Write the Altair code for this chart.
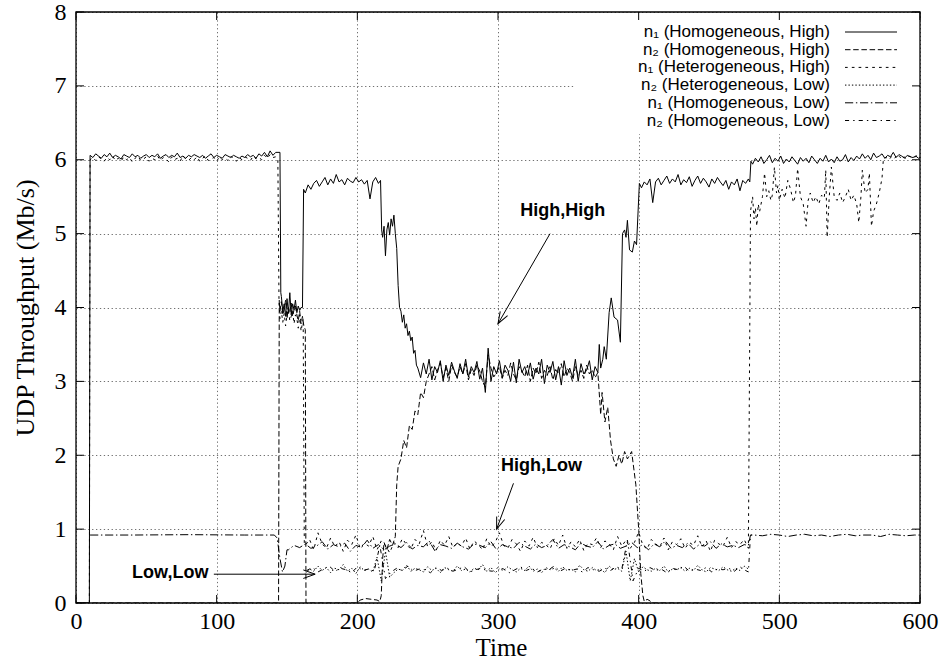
import math
import altair as alt
import pandas as pd

# ---------------- data ----------------
X_TICKS = [0, 100, 200, 300, 400, 500, 600]
Y_TICKS = [0, 1, 2, 3, 4, 5, 6, 7, 8]

SERIES = ["n\u2081 (Homogeneous, High)", "n\u2082 (Homogeneous, High)",
          "n\u2081 (Heterogeneous, High)", "n\u2082 (Heterogeneous, Low)",
          "n\u2081 (Homogeneous, Low)", "n\u2082 (Homogeneous, Low)"]

# n1 (Homogeneous, High) - solid
A_HIGH_1 = [6.06, 6.03, 6.08, 6.05, 6.02, 6.07, 6.04, 6.09, 6.03, 6.06,
            6.04, 6.01, 6.07, 6.05, 6.03, 6.08, 6.04, 6.06, 6.02, 6.05,
            6.07, 6.03, 6.06, 6.04, 6.08, 6.02, 6.05, 6.07, 6.03, 6.06,
            6.04, 6.09, 6.03, 6.05, 6.02, 6.06, 6.04, 6.07, 6.05, 6.03,
            6.06, 6.02, 6.05, 6.08, 6.03, 6.06, 6.04, 6.02, 6.07, 6.05,
            6.03, 6.06, 6.04, 6.02, 6.05, 6.03, 6.07, 6.04, 6.06, 6.02,
            6.08, 6.05, 6.10, 6.04, 6.12, 6.06, 6.10]
A_DROP = [4.15, 3.95, 4.05, 3.88, 4.12, 3.92, 4.2, 3.9, 4.05, 3.97, 4.1, 3.93, 4.02, 3.96, 4.0]
A_MID = [5.55, 5.66, 5.6, 5.68, 5.72, 5.64, 5.7, 5.76, 5.66, 5.74,
         5.68, 5.8, 5.7, 5.73, 5.66, 5.75, 5.71, 5.69, 5.76, 5.7,
         5.73, 5.67, 5.72, 5.47, 5.7, 5.76, 5.68]
A_STEP = [4.95, 5.1, 4.7, 5.05, 5.15, 4.98, 5.2, 5.1, 5.25, 5.0]
A_FALL = [(228, 4.8), (229, 4.3), (230, 4.0), (231, 3.95), (232, 3.8), (233, 3.9),
          (234, 3.72), (235, 3.78), (236, 3.62), (237, 3.68), (238, 3.55), (239, 3.6),
          (240, 3.38), (241, 3.42), (242, 3.22)]
A_BAND = [3.18, 3.05, 3.25, 3.1, 3.3, 3.02, 3.2, 3.12, 3.28, 3.0,
          3.22, 3.08, 3.26, 3.14, 3.04, 3.24, 3.1, 3.3, 3.06, 3.2,
          3.12, 3.27, 3.03, 3.18, 2.85, 3.45, 3.0, 3.2, 3.1, 3.28,
          3.05, 3.22, 3.15, 3.0, 3.26, 2.98, 3.3, 3.12, 3.2, 3.08,
          3.25, 3.03, 3.18, 3.1, 3.3, 2.97, 3.22, 3.12, 3.27, 3.02,
          3.2, 2.95, 3.28, 3.08, 3.18, 3.05, 3.3, 3.0, 3.24, 3.1,
          3.15, 3.28, 3.02, 3.2, 3.12]
A_RISE = [(372, 3.5), (373, 3.18), (374.5, 3.3), (375.5, 3.47), (377, 3.3), (379, 3.93),
          (380.5, 4.13), (382.5, 3.87), (385, 3.83), (387, 3.53), (388.5, 5.0), (390, 5.05),
          (391, 4.95), (392, 5.18), (393.5, 4.78), (395.5, 4.75), (397, 4.9), (398.5, 4.85),
          (400.5, 5.68)]
A_HIGH_2 = [5.62, 5.7, 5.66, 5.74, 5.42, 5.7, 5.75, 5.66, 5.72, 5.78,
            5.68, 5.74, 5.7, 5.8, 5.66, 5.73, 5.69, 5.77, 5.64, 5.72,
            5.78, 5.68, 5.75, 5.7, 5.63, 5.74, 5.68, 5.76, 5.7, 5.65,
            5.72, 5.6, 5.7, 5.66, 5.74, 5.58, 5.72, 5.68, 5.74]
A_HIGH_3 = [5.94, 6.02, 5.97, 6.04, 5.95, 6.0, 6.06, 5.96, 6.02, 5.98,
            6.05, 5.95, 6.01, 5.97, 6.04, 5.99, 5.94, 6.03, 5.98, 6.02,
            5.96, 6.05, 6.0, 5.95, 6.02, 5.98, 6.06, 5.97, 6.01, 5.96,
            6.04, 5.98, 6.0, 6.07, 5.97, 6.03, 5.99, 6.05, 6.01, 6.08,
            6.02, 6.06, 6.0, 6.09, 6.03, 6.05, 6.08, 6.02, 6.06, 6.04,
            6.1, 6.03, 6.07, 6.05, 6.02, 6.06, 6.04, 6.03, 6.05, 6.02]

# n2 (Homogeneous, High) - dashed
B_DROP = [3.95, 4.08, 3.9, 3.98, 4.1, 3.85, 4.0, 3.93, 4.06, 3.88, 3.97, 4.02, 3.9, 3.82, 3.95, 3.78, 3.88, 3.75]
B_RAMP = [(163, 3.7), (163.5, 0.0), (200, 0.0), (202, 0.04), (206, 0.06), (210, 0.05), (214, 0.04),
          (216, 0.02), (217, 0.1), (218, 0.6), (219, 0.82), (221, 0.72), (223, 0.86), (225, 0.78),
          (227, 0.9), (228, 1.6), (229, 1.85), (231, 1.95), (233, 2.2), (235, 2.1), (237, 2.4),
          (239, 2.35), (241, 2.6), (243, 2.55), (245, 2.85), (247, 2.78), (249, 3.0)]
B_BAND = [3.1, 3.2, 3.02, 3.15, 3.25, 3.05, 3.18, 3.0, 3.22, 3.12,
          3.06, 3.2, 3.1, 3.24, 3.02, 3.16, 3.08, 3.22, 3.14, 3.0,
          2.92, 3.36, 3.18, 3.06, 3.12, 3.2, 3.04, 3.15, 3.08, 3.25,
          3.1, 3.02, 3.2, 3.14, 3.06, 3.22, 3.0, 3.18, 3.1, 3.26,
          3.04, 3.15, 3.08, 3.2, 3.02, 3.16, 3.1, 3.24, 3.06, 3.18,
          3.12, 3.0, 3.2, 3.08, 3.15, 3.04, 3.22, 3.1, 3.16, 3.05,
          3.12]
B_FALL = [(373, 2.55), (374, 2.85), (376, 2.45), (378, 2.65), (380, 2.2), (382, 1.95),
          (384, 1.85), (386, 2.0), (388, 1.88), (390, 2.05), (392, 1.95), (395, 2.05),
          (398, 1.6), (400, 1.0), (401.5, 0.4), (403, 0.1), (404, 0.02), (406, 0.05),
          (408, 0.03), (409, 0.0), (600, 0.0)]

# n1 (Heterogeneous, High) - short dashes
C_HIGH_1 = [6.0, 6.03, 5.99, 6.04, 6.01, 5.98, 6.03, 6.0, 6.05, 5.99,
            6.02, 5.98, 6.04, 6.0, 6.03, 5.97, 6.02, 6.05, 5.99, 6.01,
            6.04, 5.98, 6.02, 6.0, 6.05, 5.99, 6.03, 6.01, 5.97, 6.04,
            6.0, 6.02, 5.98, 6.05, 6.01, 5.99, 6.03, 6.0, 6.04, 5.98,
            6.02, 6.05, 5.99, 6.01, 6.03, 5.98, 6.04, 6.0, 6.02, 5.99,
            6.05, 6.01, 5.98, 6.03, 6.0, 6.04, 6.02, 5.99, 6.05, 6.01,
            6.03, 6.0, 6.06, 6.02, 6.07, 6.03]
C_DROP = [3.85, 3.95, 3.8, 3.92, 3.75, 3.9, 3.98, 3.82, 3.88, 3.95, 3.78, 3.9, 3.85, 3.72, 3.9, 3.68]
C_BAND = [0.78, 0.86, 0.72, 0.95, 0.8, 0.74, 0.88, 0.76, 0.83, 0.7,
          0.85, 0.79, 0.92, 0.74, 0.81, 0.77, 0.9, 0.72, 0.84, 0.78,
          0.68, 0.82, 0.75, 0.87, 0.79, 0.73, 0.86, 0.8, 0.98, 0.76,
          0.83, 0.71, 0.85, 0.78, 0.9, 0.75, 0.81, 0.77, 0.88, 0.73,
          0.84, 0.79, 0.72, 0.87, 0.76, 0.82, 0.95, 0.78, 0.74, 0.86,
          0.8, 0.7, 0.84, 0.77, 0.89, 0.75, 0.82, 0.79, 0.73, 0.87,
          0.78, 0.92, 0.74, 0.83, 0.76, 0.86, 0.71, 0.81, 0.79, 0.88,
          0.75, 0.84, 0.8, 0.72, 0.9, 0.77, 0.85, 0.74, 0.82, 0.96,
          0.78, 0.73, 0.86, 0.8, 0.76, 0.88, 0.72, 0.83, 0.79, 0.87,
          0.74, 0.82, 0.78, 0.91, 0.76, 0.84, 0.7, 0.85, 0.8, 0.77,
          0.89, 0.75, 0.83, 0.79, 0.86, 0.74]
C_TAIL = [(479.5, 5.3), (481, 5.5), (482, 5.2), (483, 5.35), (484, 5.1), (485, 5.4), (486, 5.3),
          (488, 5.5), (489.5, 5.82), (491, 5.5), (492.5, 5.58), (494, 5.45), (495, 5.52),
          (496.5, 5.9), (498, 5.55), (499, 5.65), (500, 5.45), (502, 5.6), (504, 5.48),
          (506, 5.72), (508, 5.6), (510, 5.42), (511.5, 5.52), (513, 5.88), (515, 5.5),
          (517, 5.4), (519, 5.1), (520.5, 5.45), (522, 5.55), (524, 5.42), (526, 5.5),
          (528, 5.4), (530, 5.52), (532, 5.48), (533, 5.86), (534, 4.95), (535.5, 5.5),
          (537, 5.9), (539, 5.5), (541, 5.45), (543, 5.55), (545, 5.42), (547, 5.5),
          (549, 5.6), (551, 5.45), (553, 5.52), (555, 5.4), (556.5, 5.15), (558, 5.5),
          (559, 5.86), (561, 5.55), (563, 5.6), (564, 5.82), (565.5, 5.1), (567, 5.3),
          (569, 5.4), (571, 5.55), (573, 5.75), (574, 6.02)]
C_HIGH_2 = [6.03, 6.0, 6.05, 6.02, 6.07, 6.03, 6.06, 6.01, 6.05, 6.04, 6.03, 6.06, 6.02]

# n2 (Heterogeneous, Low) - fine dots
D_BAND = [0.4, 0.46, 0.43, 0.5, 0.44, 0.48, 0.41, 0.47, 0.45, 0.52,
          0.43, 0.47, 0.4, 0.49, 0.44, 0.46, 0.42, 0.62, 0.3, 0.7,
          0.35, 0.41, 0.46, 0.44, 0.51, 0.43, 0.47, 0.45, 0.42, 0.49,
          0.44, 0.47, 0.41, 0.48, 0.45, 0.43, 0.5, 0.44, 0.46, 0.42,
          0.47, 0.45, 0.52, 0.43, 0.48, 0.41, 0.46, 0.44, 0.49, 0.45,
          0.42, 0.47, 0.44, 0.5, 0.43, 0.46, 0.41, 0.48, 0.45, 0.47,
          0.43, 0.49, 0.44, 0.46, 0.42, 0.51, 0.45, 0.43, 0.48, 0.44,
          0.46, 0.41, 0.5, 0.45, 0.47, 0.43, 0.7, 0.3, 0.6, 0.42,
          0.49, 0.45, 0.43, 0.47, 0.44, 0.5, 0.42, 0.46, 0.45, 0.48,
          0.43, 0.47, 0.44, 0.51, 0.45, 0.42, 0.48, 0.46, 0.44, 0.49,
          0.45, 0.43, 0.47, 0.44, 0.5, 0.46]

# n1 (Homogeneous, Low) - dash-dot
E_START = [(10, 0.92), (40, 0.92), (80, 0.925), (120, 0.92), (141, 0.92), (143, 0.88),
           (145, 0.6), (146.8, 0.42), (148.5, 0.5), (150, 0.72)]
E_BAND = [0.72, 0.78, 0.75, 0.8, 0.74, 0.77, 0.83, 0.73, 0.79, 0.76,
          0.81, 0.7, 0.78, 0.75, 0.85, 0.74, 0.79, 0.72, 0.77, 0.8,
          0.75, 0.82, 0.73, 0.78, 0.76, 0.84, 0.71, 0.79, 0.77, 0.74,
          0.81, 0.76, 0.73, 0.8, 0.78, 0.75, 0.83, 0.72, 0.79, 0.76,
          0.74, 0.82, 0.77, 0.73, 0.8, 0.75, 0.78, 0.86, 0.74, 0.79,
          0.76, 0.72, 0.81, 0.77, 0.75, 0.83, 0.73, 0.78, 0.8, 0.74,
          0.77, 0.82, 0.75, 0.79, 0.72, 0.8, 0.76, 0.84, 0.74, 0.78,
          0.75, 0.81, 0.73, 0.79, 0.77, 0.83, 0.74, 0.8, 0.76, 0.78,
          0.75, 0.79]
E_JUMP = [(478, 0.78), (479.5, 0.92)]
E_END = [0.92, 0.91, 0.93, 0.92, 0.9, 0.92, 0.93, 0.91, 0.92, 0.9,
         0.92, 0.93, 0.91, 0.92, 0.92, 0.9, 0.93, 0.92, 0.91, 0.92]

# n2 (Homogeneous, Low) - dash-dot-dot
F_BAND = [0.44, 0.48, 0.42, 0.46, 0.5, 0.43, 0.47, 0.45, 0.41, 0.49,
          0.44, 0.46, 0.43, 0.78, 0.33, 0.42, 0.47, 0.44, 0.5, 0.43,
          0.46, 0.45, 0.41, 0.48, 0.44, 0.47, 0.43, 0.46, 0.49, 0.42,
          0.45, 0.47, 0.44, 0.43, 0.48, 0.46, 0.41, 0.45, 0.49, 0.44,
          0.47, 0.42, 0.46, 0.45, 0.5, 0.43, 0.47, 0.44, 0.46, 0.42,
          0.48, 0.45, 0.43, 0.47, 0.44, 0.49, 0.46, 0.85, 0.3, 0.47,
          0.43, 0.48, 0.44, 0.46, 0.41, 0.47, 0.45, 0.5, 0.43, 0.46,
          0.44, 0.48, 0.42, 0.46, 0.45, 0.47, 0.43, 0.49, 0.44]
F_END = [(478, 0.42), (479.5, 0.92), (480.5, 0.92)]

# annotations
ANN_TEXT = ["High,High", "High,Low", "Low,Low"]
ANN_T = [346, 331, 67]
ANN_V = [5.3, 1.86, 0.40]
ARR_T1 = [337, 311, 98]
ARR_V1 = [5.0, 1.62, 0.39]
ARR_T2 = [300, 299, 170]
ARR_V2 = [3.78, 1.0, 0.39]


def run(t0, step, vals):
    return [(t0 + i * step, v) for i, v in enumerate(vals)]


series_pts = [
    [(0, 0), (9.5, 0)] + run(10, 2, A_HIGH_1) + [(145, 6.1), (145.6, 4.2)] + run(146, 1, A_DROP)
    + [(161, 4.0), (161.8, 5.6)] + run(163, 2, A_MID) + [(216.5, 5.72), (217.3, 5.05)]
    + run(218, 1, A_STEP) + A_FALL + run(243, 2, A_BAND) + A_RISE + run(402, 2, A_HIGH_2)
    + [(479, 5.7), (479.8, 5.98)] + run(481, 2, A_HIGH_3) + [(600, 6.03)],
    [(0, 0), (144, 0), (144.5, 4.1)] + run(145, 1, B_DROP) + B_RAMP + run(251, 2, B_BAND) + B_FALL,
    [(0, 0), (9.5, 0)] + run(10, 2, C_HIGH_1) + [(142, 6.04), (143.5, 6.0), (144.3, 4.1)]
    + run(145, 1, C_DROP) + [(161.5, 3.85), (162.3, 0.8)] + run(163, 3, C_BAND) + C_TAIL
    + run(576, 2, C_HIGH_2),
    run(163, 3, D_BAND),
    E_START + run(151, 4, E_BAND) + E_JUMP + run(482, 6, E_END) + [(600, 0.92)],
    run(164, 4, F_BAND) + F_END,
]

# ---------------- styling ----------------
W, H = 844, 591
PX_T = W / 600.0
PX_V = H / 8.0
DASHES = [None, [5.5, 2.7], [2.7, 4.1], [1.4, 2.05], [8.2, 2.7, 1.4, 2.7], [4.1, 4.1, 1.4, 4.1]]
SERIF = "Liberation Serif"
SANS = "Liberation Sans"

xs = alt.Scale(domain=[0, 600], nice=False, zero=False)
ys = alt.Scale(domain=[0, 8], nice=False, zero=False)

x_axis = alt.Axis(values=X_TICKS, format="d", grid=True, ticks=False, domain=False,
                  gridColor="#707070", gridDash=[1.3, 2.6], gridWidth=1,
                  labelFont=SERIF, labelFontSize=24, labelColor="black", labelPadding=6,
                  labelFlush=False, title="Time", titleFont=SERIF, titleFontSize=25,
                  titleFontWeight="normal", titleColor="black", titleX=W / 2 + 3, titleY=44,
                  titleBaseline="middle", titleAlign="center")
y_axis = alt.Axis(values=Y_TICKS, format="d", grid=True, ticks=False, domain=False,
                  gridColor="#707070", gridDash=[1.3, 2.6], gridWidth=1,
                  labelFont=SERIF, labelFontSize=24, labelColor="black", labelPadding=10,
                  title="UDP Throughput (Mb/s)", titleFont=SERIF, titleFontSize=26,
                  titleFontWeight="normal", titleColor="black", titleX=-51, titleY=H / 2,
                  titleAngle=270, titleAlign="center", titleBaseline="middle")


def XE(field="t"):
    return alt.X(field + ":Q", scale=xs, axis=x_axis, title="Time")


def YE(field="v"):
    return alt.Y(field + ":Q", scale=ys, axis=y_axis, title="UDP Throughput (Mb/s)")


one = pd.DataFrame({"a": [0]})
layers = []
draw_order = [3, 5, 4, 2, 1, 0]
for k, idx in enumerate(draw_order):
    df = pd.DataFrame(series_pts[idx], columns=["t", "v"])
    kw = dict(color="black", strokeWidth=1, clip=True)
    if DASHES[idx] is not None:
        kw["strokeDash"] = DASHES[idx]
    layers.append(alt.Chart(df).mark_line(**kw).encode(x=XE(), y=YE()))
    if k == 0:
        # white key box hides the grid behind the key
        layers.append(alt.Chart(one).mark_rect(fill="white").encode(
            x=alt.value(499), x2=alt.value(W - 1), y=alt.value(1), y2=alt.value(122)))

# annotations
ann = pd.DataFrame({"label": ANN_TEXT, "t": ANN_T, "v": ANN_V})
layers.append(alt.Chart(ann).mark_text(font=SANS, fontWeight="bold", fontSize=18, color="black",
                                        align="center", baseline="middle").encode(
    x=XE(), y=YE(), text="label:N"))

angles = []
for t1, v1, t2, v2 in zip(ARR_T1, ARR_V1, ARR_T2, ARR_V2):
    dx = (t2 - t1) * PX_T
    dy = -(v2 - v1) * PX_V
    angles.append(math.degrees(math.atan2(dx, -dy)) % 360)
arr = pd.DataFrame({"t": ARR_T1, "v": ARR_V1, "t2": ARR_T2, "v2": ARR_V2, "ang": angles})
layers.append(alt.Chart(arr).mark_rule(color="black", strokeWidth=1).encode(
    x=XE(), y=YE(), x2="t2:Q", y2="v2:Q"))
layers.append(alt.Chart(arr.rename(columns={"t": "t1", "v": "v1", "t2": "t", "v2": "v"}))
              .mark_point(shape="M -0.36 1 L 0 0 L 0.36 1", filled=False,
                          color="black", strokeWidth=1, size=560, opacity=1).encode(
    x=XE(), y=YE(), angle=alt.Angle("ang:Q", scale=None)))

# inward ticks on all four sides
xt = pd.DataFrame({"t": X_TICKS})
yt = pd.DataFrame({"v": Y_TICKS})
TL = 8
layers.append(alt.Chart(xt).mark_rule(color="black", strokeWidth=1).encode(
    x=XE(), y=alt.value(H), y2=alt.value(H - TL)))
layers.append(alt.Chart(xt).mark_rule(color="black", strokeWidth=1).encode(
    x=XE(), y=alt.value(0), y2=alt.value(TL)))
layers.append(alt.Chart(yt).mark_rule(color="black", strokeWidth=1).encode(
    y=YE(), x=alt.value(0), x2=alt.value(TL)))
layers.append(alt.Chart(yt).mark_rule(color="black", strokeWidth=1).encode(
    y=YE(), x=alt.value(W), x2=alt.value(W - TL)))

# key
for i, name in enumerate(SERIES):
    yrow = 20 + 17.7 * i
    layers.append(alt.Chart(pd.DataFrame({"label": [name]})).mark_text(
        font=SANS, fontSize=17, color="black", align="right", baseline="middle").encode(
        x=alt.value(754), y=alt.value(yrow), text="label:N"))
    kw = dict(color="black", strokeWidth=1)
    if DASHES[i] is not None:
        kw["strokeDash"] = DASHES[i]
    layers.append(alt.Chart(one).mark_rule(**kw).encode(
        x=alt.value(769), x2=alt.value(821), y=alt.value(yrow)))

# frame
layers.append(alt.Chart(one).mark_rect(fillOpacity=0, stroke="black", strokeWidth=1.3).encode(
    x=alt.value(0), x2=alt.value(W), y=alt.value(0), y2=alt.value(H)))

chart = alt.layer(*layers).properties(
    width=W, height=H,
    padding={"left": 76, "top": 12, "right": 26, "bottom": 59},
    autosize=alt.AutoSizeParams(type="none"),
    background="white",
).configure_view(stroke=None)

chart.save("out.html", embed_options={"renderer": "svg", "actions": False})
